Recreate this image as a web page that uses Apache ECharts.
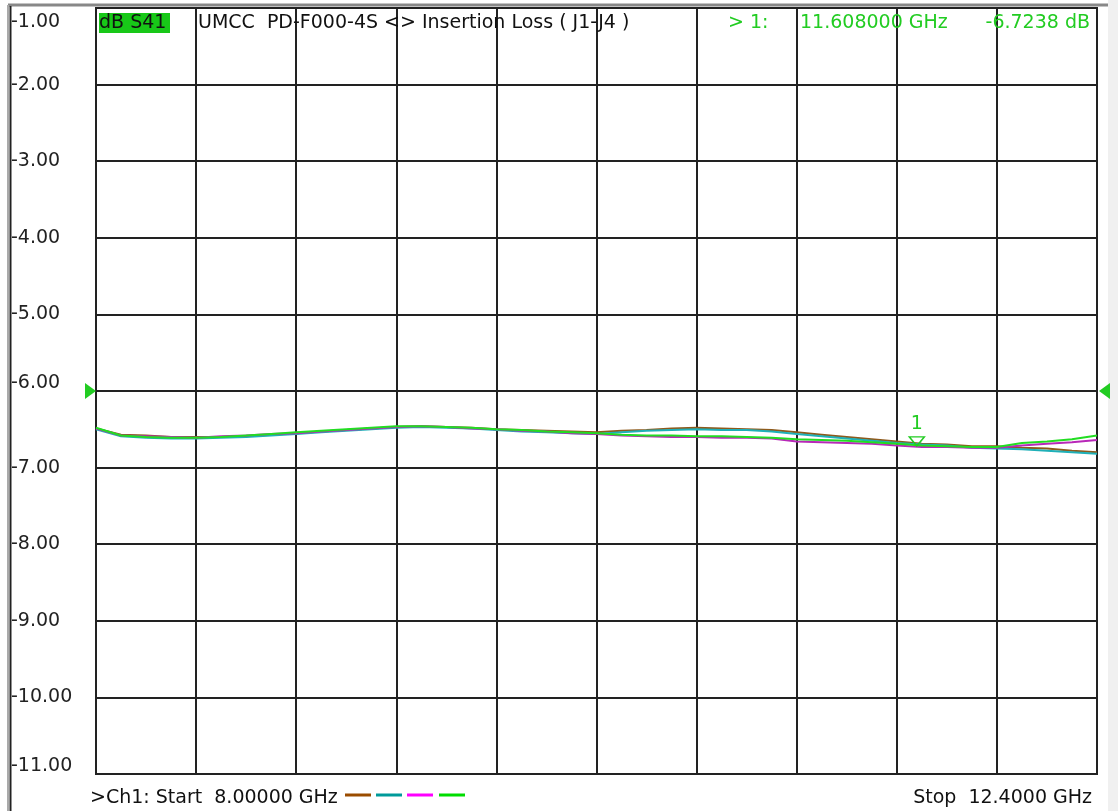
<!DOCTYPE html>
<html>
<head>
<meta charset="utf-8">
<script src="https://cdn.jsdelivr.net/npm/echarts@6/dist/echarts.min.js"></script>
<style>
html,body{margin:0;padding:0;background:#fff;}
#c{width:1118px;height:811px;}
</style>
</head>
<body>
<div id="c"></div>
<script>
// Frequencies (GHz)
const freqs = [8.00,8.11,8.22,8.33,8.44,8.55,8.66,8.77,8.88,8.99,9.10,9.21,9.32,9.43,9.54,9.65,9.76,9.87,9.98,10.09,10.20,
  10.31,10.42,10.53,10.64,10.75,10.86,10.97,11.08,11.19,11.30,11.41,11.52,11.63,11.74,11.85,11.96,12.07,12.18,12.29,12.40];
// dB values per trace
const brownTrace = [-6.49,-6.57,-6.58,-6.60,-6.60,-6.60,-6.59,-6.57,-6.55,-6.53,-6.51,-6.49,-6.47,-6.46,-6.47,-6.48,-6.50,-6.51,-6.52,-6.53,-6.54,
  -6.52,-6.51,-6.49,-6.48,-6.49,-6.50,-6.51,-6.54,-6.57,-6.60,-6.63,-6.66,-6.69,-6.70,-6.72,-6.72,-6.74,-6.75,-6.78,-6.80];
const tealTrace = [-6.50,-6.59,-6.61,-6.62,-6.62,-6.61,-6.60,-6.58,-6.56,-6.54,-6.52,-6.50,-6.48,-6.47,-6.48,-6.49,-6.51,-6.53,-6.54,-6.55,-6.56,
  -6.54,-6.52,-6.51,-6.50,-6.51,-6.51,-6.53,-6.56,-6.59,-6.62,-6.65,-6.68,-6.70,-6.71,-6.74,-6.75,-6.76,-6.78,-6.80,-6.82];
const magentaTrace = [-6.49,-6.58,-6.59,-6.60,-6.61,-6.59,-6.58,-6.56,-6.55,-6.53,-6.51,-6.49,-6.47,-6.46,-6.47,-6.49,-6.50,-6.52,-6.53,-6.55,-6.56,
  -6.58,-6.59,-6.60,-6.60,-6.61,-6.61,-6.62,-6.66,-6.67,-6.68,-6.69,-6.71,-6.73,-6.73,-6.74,-6.74,-6.71,-6.69,-6.67,-6.64];
const greenTrace = [-6.48,-6.58,-6.60,-6.61,-6.61,-6.60,-6.58,-6.56,-6.54,-6.52,-6.50,-6.48,-6.46,-6.46,-6.47,-6.48,-6.50,-6.51,-6.53,-6.54,-6.55,
  -6.57,-6.58,-6.58,-6.59,-6.59,-6.60,-6.61,-6.63,-6.64,-6.65,-6.67,-6.69,-6.71,-6.72,-6.73,-6.73,-6.68,-6.66,-6.63,-6.58];
const marker1 = [11.608, -6.7238];
const refLevel = -6.0;
const startGHz = 8.0, stopGHz = 12.4;
const yMin = -11, yMax = -1, yStep = 1;

const FONT = 'DejaVu Sans';
const GREEN = '#22cc22';
const traceColors = ['#8e5a1c', '#1fb0b8', '#b828b8', '#22dd22'];
const legendColors = ['#9a4c00', '#009a9a', '#ff00ff', '#00dd00'];

const chart = echarts.init(document.getElementById('c'));
function pairs(arr){ return freqs.map((f,i)=>[f, arr[i]]); }
function mkSeries(name, arr, color, extra){
  return Object.assign({
    name, type:'line', data: pairs(arr), xAxisIndex:0, yAxisIndex:0,
    showSymbol:false, symbol:'none', smooth:false, animation:false,
    lineStyle:{color, width:2}, itemStyle:{color}, z:3
  }, extra||{});
}
const option = {
  backgroundColor:'#fff',
  animation:false,
  grid:{left:96, right:21, top:8, bottom:37, show:true, borderColor:'#222', borderWidth:2, backgroundColor:'#fff'},
  xAxis:[
    {type:'value', min:startGHz, max:stopGHz, show:false},
    {type:'value', min:0, max:10, interval:1, axisLine:{show:false}, axisTick:{show:false}, axisLabel:{show:false},
     splitLine:{show:true, lineStyle:{color:'#222', width:2}}}
  ],
  yAxis:{
    type:'value', min:yMin, max:yMax, interval:yStep,
    axisLine:{show:false}, axisTick:{show:false},
    splitLine:{show:true, lineStyle:{color:'#222', width:2}},
    axisLabel:{
      align:'left', margin:85, color:'#222', fontFamily:FONT, fontSize:19,
      formatter:function(v){
        const s = v.toFixed(2);
        if (v === yMax) return '{t|'+s+'}';
        if (v === yMin || v === refLevel) return '{b|'+s+'}';
        return '{n|'+s+'}';
      },
      rich:{
        n:{fontFamily:FONT, fontSize:19, color:'#222'},
        t:{fontFamily:FONT, fontSize:19, color:'#222', padding:[28,0,0,0]},
        b:{fontFamily:FONT, fontSize:19, color:'#222', padding:[0,0,16,0]}
      }
    }
  },
  series:[
    mkSeries('brown', brownTrace, traceColors[0]),
    mkSeries('teal', tealTrace, traceColors[1]),
    mkSeries('magenta', magentaTrace, traceColors[2]),
    mkSeries('green', greenTrace, traceColors[3], {
      markPoint:{
        silent:true, animation:false,
        data:[{coord:marker1, value:1}],
        symbol:'path://M0,0 L10,0 L5,8 Z', symbolSize:[15,9], symbolOffset:[0,-5],
        itemStyle:{color:'rgba(255,255,255,0)', borderColor:GREEN, borderWidth:1.5},
        label:{show:true, formatter:'1', position:'top', distance:3, color:GREEN, fontFamily:FONT, fontSize:19}
      }
    })
  ]
};
chart.setOption(option);

const yRef = chart.convertToPixel({yAxisIndex:0}, refLevel);
const txt = (x,y,s,color,align)=>({type:'text', x, y, style:{text:s, fill:color, font:'19px "'+FONT+'"', align:align||'left', verticalAlign:'middle'}, z:10});
const graphics = [
  {type:'rect', shape:{x:1108, y:0, width:10, height:811}, style:{fill:'#f0f0f0'}, z:1},
  {type:'line', shape:{x1:8, y1:5, x2:1108, y2:5}, style:{stroke:'#888', lineWidth:3}, z:1},
  {type:'line', shape:{x1:8, y1:5, x2:8, y2:811}, style:{stroke:'#aaa', lineWidth:2}, z:1},
  {type:'line', shape:{x1:10.5, y1:6, x2:10.5, y2:811}, style:{stroke:'#222', lineWidth:2}, z:1},
  {type:'rect', shape:{x:99, y:13, width:71, height:20}, style:{fill:'#18c818'}, z:9},
  txt(99, 23, 'dB S41', '#111'),
  txt(198, 23, 'UMCC  PD-F000-4S <> Insertion Loss ( J1-J4 )', '#111'),
  txt(728, 23, '> 1:', GREEN),
  txt(800, 23, '11.608000 GHz', GREEN),
  txt(1090, 23, '-6.7238 dB', GREEN, 'right'),
  txt(90, 798, '>Ch1: Start  8.00000 GHz', '#111'),
  txt(1092, 798, 'Stop  12.4000 GHz', '#111', 'right'),
  {type:'polygon', shape:{points:[[85,yRef-8],[96,yRef],[85,yRef+8]]}, style:{fill:'#22cc22'}, z:10},
  {type:'polygon', shape:{points:[[1110,yRef-8],[1099,yRef],[1110,yRef+8]]}, style:{fill:'#22cc22'}, z:10}
];
legendColors.forEach((c,i)=>{
  const x0 = [345,376,407,439][i];
  graphics.push({type:'line', shape:{x1:x0, y1:795, x2:x0+26, y2:795}, style:{stroke:c, lineWidth:3}, z:10});
});
chart.setOption({graphic:graphics});
</script>
</body>
</html>
